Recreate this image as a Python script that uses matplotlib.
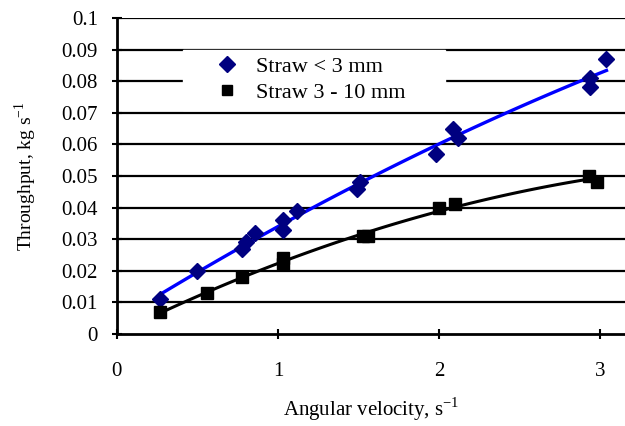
import numpy as np
import matplotlib.pyplot as plt

plt.rcParams['font.family'] = ['Liberation Serif', 'DejaVu Serif']
plt.rcParams['mathtext.fontset'] = 'custom'
plt.rcParams['mathtext.rm'] = 'Liberation Serif'

# straw < 3 mm
fine_x = [0.27, 0.50, 0.78, 0.80, 0.86, 1.03, 1.03, 1.12, 1.49, 1.51,
          1.98, 2.09, 2.12, 2.94, 2.94, 3.04]
fine_y = [0.011, 0.020, 0.027, 0.029, 0.032, 0.036, 0.033, 0.039, 0.046, 0.048,
          0.057, 0.065, 0.062, 0.081, 0.078, 0.087]

# straw 3 - 10 mm
coarse_x = [0.27, 0.56, 0.78, 1.03, 1.03, 1.53, 1.56, 2.00, 2.10, 2.93, 2.98]
coarse_y = [0.007, 0.013, 0.018, 0.024, 0.022, 0.031, 0.031, 0.040, 0.041, 0.050, 0.048]

x_ticks = [0, 1, 2, 3]
y_ticks = [0, 0.01, 0.02, 0.03, 0.04, 0.05, 0.06, 0.07, 0.08, 0.09, 0.1]
y_labels = ['0', '0.01', '0.02', '0.03', '0.04', '0.05', '0.06', '0.07', '0.08', '0.09', '0.1']


def trend(x, y):
    # 2nd order polynomial trendline
    c = np.polyfit(x, y, 2)
    xs = np.linspace(min(x), max(x), 100)
    return xs, np.polyval(c, xs)


fig = plt.figure(figsize=(6.25, 4.26), dpi=100)
ax = fig.add_axes([0.187, 0.216, 0.813, 0.742])

for yv in y_ticks[1:]:
    ax.axhline(yv, color='black', lw=1.6, zorder=1)

xs, ys = trend(fine_x, fine_y)
ax.plot(xs, ys, color='#0000ff', lw=2.4, zorder=3)
xs, ys = trend(coarse_x, coarse_y)
ax.plot(xs, ys, color='black', lw=2.2, zorder=3)

ax.plot(fine_x, fine_y, 'D', color='#000080', ms=8.5, ls='none', zorder=4, label='Straw < 3 mm')
ax.plot(coarse_x, coarse_y, 's', color='black', ms=8, ls='none', zorder=4, label='Straw 3 - 10 mm')

ax.set_xlim(0, 3.155)
ax.set_ylim(0, 0.1)
ax.set_xticks(x_ticks)
ax.set_yticks(y_ticks)
ax.set_yticklabels(y_labels)
ax.tick_params(direction='inout', length=7, width=1.5, labelsize=15)
ax.tick_params(axis='x', pad=17)
ax.tick_params(axis='y', pad=10)
for s in ['top', 'right']:
    ax.spines[s].set_visible(False)
for s in ['left', 'bottom']:
    ax.spines[s].set_linewidth(2)

ax.set_xlabel('Angular velocity, s$^{-1}$', fontsize=15, labelpad=10)
ax.set_ylabel('Throughput, kg s$^{-1}$', fontsize=14, labelpad=16)

leg = ax.legend(loc='upper left', bbox_to_anchor=(0.13, 0.5, 0.516, 0.399),
                mode='expand', fontsize=16, frameon=True, fancybox=False,
                handlelength=3.4, handletextpad=-0.4, markerscale=0.95,
                borderpad=0.3, labelspacing=0.25, borderaxespad=0)
leg.get_frame().set_facecolor('white')
leg.get_frame().set_edgecolor('white')
leg.get_frame().set_alpha(1)

fig.savefig('out.png', dpi=100)
